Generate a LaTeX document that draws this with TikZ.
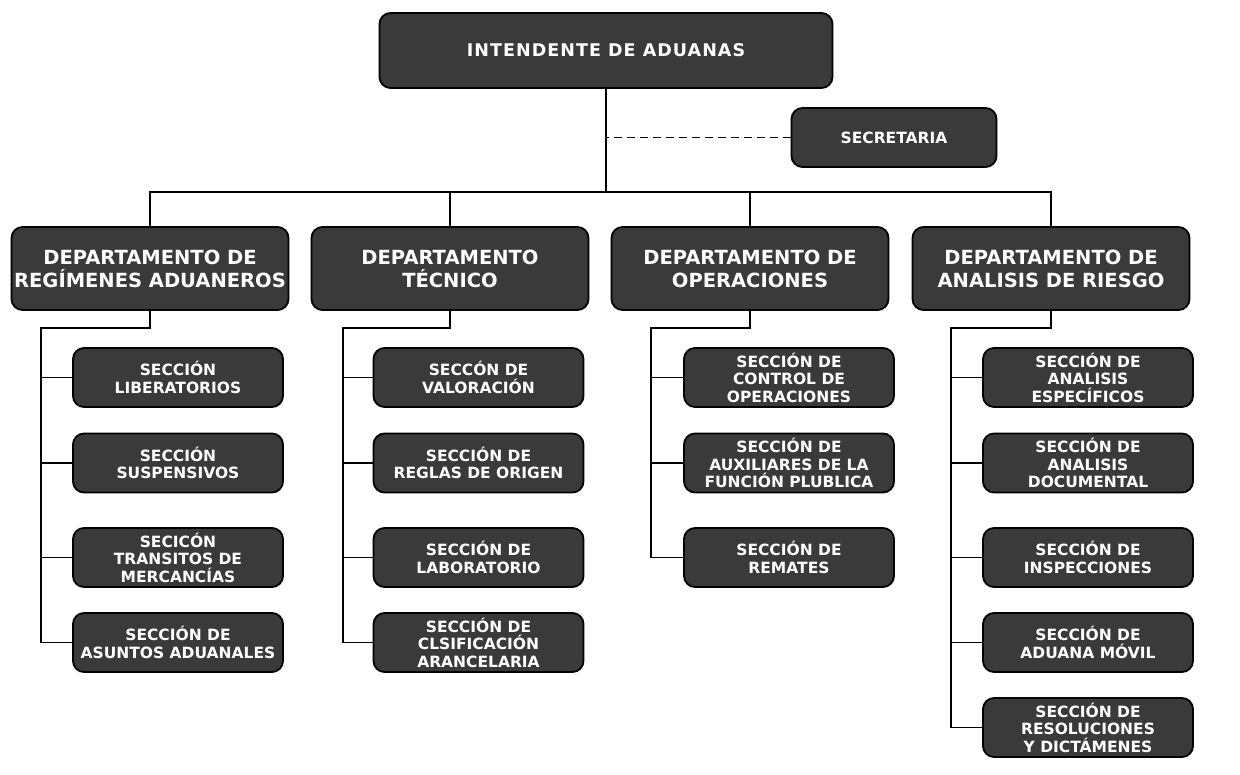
\documentclass[tikz,border=0pt]{standalone}
\usepackage{fontspec}
\setmainfont{DejaVu Sans}
\definecolor{boxgray}{HTML}{3A3A3A}
\tikzset{
  orgbox/.style={draw=black, line width=1.8pt, fill=boxgray, rounded corners=11pt,
    text=white, align=center, inner sep=0pt},
  topbox/.style={orgbox, minimum width=453pt, minimum height=75pt,
    font=\fontsize{17.5}{21}\selectfont\bfseries\addfontfeatures{LetterSpace=6}},
  secbox/.style={orgbox, minimum width=205pt, minimum height=59pt,
    font=\fontsize{15.5}{18}\selectfont\bfseries},
  deptbox/.style={orgbox, minimum width=277pt, minimum height=83pt,
    font=\fontsize{19.5}{23}\selectfont\bfseries},
  sectbox/.style={orgbox, minimum width=210pt, minimum height=59pt,
    font=\fontsize{15.5}{17.5}\selectfont\bfseries},
  link/.style={draw=black, line width=1.7pt},
  dlink/.style={draw=black, line width=1.4pt, dash pattern=on 8pt off 5pt}
}
\begin{document}
\begin{tikzpicture}[x=1pt,y=-1pt]
\useasboundingbox (0,0) rectangle (1240,774);
\fill[white] (0,0) rectangle (1240,774);

% top
\node[topbox] (top) at (606,50.5) {INTENDENTE DE ADUANAS};
\node[secbox] (sec) at (894,137.5) {SECRETARIA};

% departments
\node[deptbox] (d1) at (150,268.5) {DEPARTAMENTO DE\\REGÍMENES ADUANEROS};
\node[deptbox] (d2) at (450,268.5) {DEPARTAMENTO\\TÉCNICO};
\node[deptbox] (d3) at (750,268.5) {DEPARTAMENTO DE\\OPERACIONES};
\node[deptbox] (d4) at (1051,268.5) {DEPARTAMENTO DE\\ANALISIS DE RIESGO};

% sections dept 1
\node[sectbox] (s11) at (178,377.5) {SECCIÓN\\LIBERATORIOS};
\node[sectbox] (s12) at (178,463) {SECCIÓN\\SUSPENSIVOS};
\node[sectbox] (s13) at (178,557.5) {SECICÓN\\TRANSITOS DE\\MERCANCÍAS};
\node[sectbox] (s14) at (178,642.5) {SECCIÓN DE\\ASUNTOS ADUANALES};

% sections dept 2
\node[sectbox] (s21) at (478.5,377.5) {SECCÓN DE\\VALORACIÓN};
\node[sectbox] (s22) at (478.5,463) {SECCIÓN DE\\REGLAS DE ORIGEN};
\node[sectbox] (s23) at (478.5,557.5) {SECCIÓN DE\\LABORATORIO};
\node[sectbox] (s24) at (478.5,642.5) {SECCIÓN DE\\CLSIFICACIÓN\\ARANCELARIA};

% sections dept 3
\node[sectbox] (s31) at (789,377.5) {SECCIÓN DE\\CONTROL DE\\OPERACIONES};
\node[sectbox] (s32) at (789,463) {SECCIÓN DE\\AUXILIARES DE LA\\FUNCIÓN PLUBLICA};
\node[sectbox] (s33) at (789,557.5) {SECCIÓN DE\\REMATES};

% sections dept 4
\node[sectbox] (s41) at (1088,377.5) {SECCIÓN DE\\ANALISIS\\ESPECÍFICOS};
\node[sectbox] (s42) at (1088,463) {SECCIÓN DE\\ANALISIS\\DOCUMENTAL};
\node[sectbox] (s43) at (1088,557.5) {SECCIÓN DE\\INSPECCIONES};
\node[sectbox] (s44) at (1088,642.5) {SECCIÓN DE\\ADUANA MÓVIL};
\node[sectbox] (s45) at (1088,727.5) {SECCIÓN DE\\RESOLUCIONES\\Y DICTÁMENES};

% main bus
\coordinate (bus) at (606,192);
\draw[link] (top.south) -- (bus);
\draw[link] (d1.north) |- (bus);
\draw[link] (d2.north) |- (bus);
\draw[link] (d3.north) |- (bus);
\draw[link] (d4.north) |- (bus);
\draw[dlink] (sec.west) -- (sec.west -| top.south);

% dept 1 trunk
\coordinate (t1) at (41,328);
\draw[link] (d1.south) |- (t1) -- (t1 |- s14.west);
\foreach \s in {s11,s12,s13,s14} \draw[link] (\s.west) -- (\s.west -| t1);

% dept 2 trunk
\coordinate (t2) at (343,328);
\draw[link] (d2.south) |- (t2) -- (t2 |- s24.west);
\foreach \s in {s21,s22,s23,s24} \draw[link] (\s.west) -- (\s.west -| t2);

% dept 3 trunk
\coordinate (t3) at (651,328);
\draw[link] (d3.south) |- (t3) -- (t3 |- s33.west);
\foreach \s in {s31,s32,s33} \draw[link] (\s.west) -- (\s.west -| t3);

% dept 4 trunk
\coordinate (t4) at (951,328);
\draw[link] (d4.south) |- (t4) -- (t4 |- s45.west);
\foreach \s in {s41,s42,s43,s44,s45} \draw[link] (\s.west) -- (\s.west -| t4);
\end{tikzpicture}
\end{document}
